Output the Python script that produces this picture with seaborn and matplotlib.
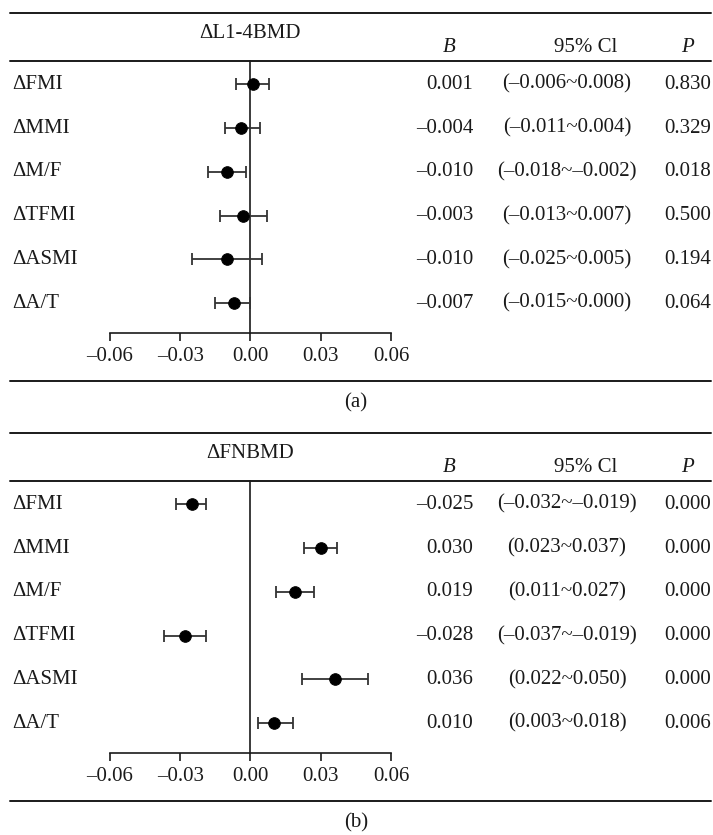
import numpy as np
import pandas as pd
import matplotlib
matplotlib.use("Agg")
import matplotlib.pyplot as plt
import matplotlib.transforms as mtransforms
import seaborn as sns

# data
rows = ["ΔFMI", "ΔMMI", "ΔM/F", "ΔTFMI", "ΔASMI", "ΔA/T"]

b_l14 = [0.001, -0.004, -0.010, -0.003, -0.010, -0.007]
lo_l14 = [-0.006, -0.011, -0.018, -0.013, -0.025, -0.015]
hi_l14 = [0.008, 0.004, -0.002, 0.007, 0.005, 0.000]
b_txt_l14 = ["0.001", "–0.004", "–0.010", "–0.003", "–0.010", "–0.007"]
ci_txt_l14 = ["(–0.006~0.008)", "(–0.011~0.004)", "(–0.018~–0.002)",
              "(–0.013~0.007)", "(–0.025~0.005)", "(–0.015~0.000)"]
p_txt_l14 = ["0.830", "0.329", "0.018", "0.500", "0.194", "0.064"]

b_fn = [-0.025, 0.030, 0.019, -0.028, 0.036, 0.010]
lo_fn = [-0.032, 0.023, 0.011, -0.037, 0.022, 0.003]
hi_fn = [-0.019, 0.037, 0.027, -0.019, 0.050, 0.018]
b_txt_fn = ["–0.025", "0.030", "0.019", "–0.028", "0.036", "0.010"]
ci_txt_fn = ["(–0.032~–0.019)", "(0.023~0.037)", "(0.011~0.027)",
             "(–0.037~–0.019)", "(0.022~0.050)", "(0.003~0.018)"]
p_txt_fn = ["0.000", "0.000", "0.000", "0.000", "0.000", "0.006"]

xticks = [-0.06, -0.03, 0.00, 0.03, 0.06]
xtick_labels = ["–0.06", "–0.03", "0.00", "0.03", "0.06"]

sns.set_style("white")
plt.rcParams["font.family"] = ["Liberation Serif", "DejaVu Serif"]

W, H = 713, 835
FS = 15
ink = "#1a1a1a"

fig = plt.figure(figsize=(W / 100, H / 100), dpi=100)
bg = fig.add_axes([0, 0, 1, 1], zorder=0)
bg.set_xlim(0, W)
bg.set_ylim(H, 0)
bg.axis("off")


def panel(off, title, tag, b, lo, hi, btxt, citxt, ptxt):
    # rules
    bg.plot([10, 711], [13 + off, 13 + off], color=ink, lw=1.4)
    bg.plot([10, 711], [61 + off, 61 + off], color=ink, lw=1.4)
    bg.plot([10, 711], [381 + off, 381 + off], color=ink, lw=1.4)
    bg.text(250, 33 + off, title, ha="center", va="center", fontsize=FS, color=ink)
    bg.text(449, 48 + off, "B", ha="center", va="center", fontsize=FS,
            style="italic", color=ink)
    bg.text(586, 48 + off, "95% Cl", ha="center", va="center", fontsize=FS, color=ink)
    bg.text(687, 48 + off, "P", ha="center", va="center", fontsize=FS,
            style="italic", color=ink)
    bg.text(356, 403 + off, tag, ha="center", va="center", fontsize=FS, color=ink)

    top, bot = 61 + off, 333 + off
    ax = fig.add_axes([110 / W, 1 - bot / H, 281 / W, (bot - top) / H], zorder=2)
    ax.patch.set_alpha(0)

    df = pd.DataFrame({"row": np.arange(len(rows)), "b": b, "lo": lo, "hi": hi})
    ax.errorbar(df["b"], df["row"], xerr=[df["b"] - df["lo"], df["hi"] - df["b"]],
                fmt="none", ecolor="#333333", elinewidth=1.3, capsize=4,
                capthick=1.3, zorder=3, clip_on=False)
    sns.scatterplot(data=df, x="b", y="row", ax=ax, color="black", s=70,
                    edgecolor="black", zorder=4, clip_on=False, legend=False)

    ax.set_xlim(-0.06, 0.06)
    ax.set_ylim(5.68, -0.53)
    ax.set_xticks(xticks)
    ax.set_xticklabels(xtick_labels, fontsize=FS, color=ink)
    ax.set_yticks([])
    ax.set_xlabel("")
    ax.set_ylabel("")
    ax.tick_params(axis="x", direction="out", length=6, width=1.2, color=ink,
                   pad=4, bottom=True)
    for s in ["top", "right"]:
        ax.spines[s].set_visible(False)
    ax.spines["left"].set_position(("data", 0))
    ax.spines["left"].set_color(ink)
    ax.spines["left"].set_linewidth(1.2)
    ax.spines["bottom"].set_color(ink)
    ax.spines["bottom"].set_linewidth(1.2)

    tr = mtransforms.blended_transform_factory(fig.transFigure, ax.transData)
    for i, name in enumerate(rows):
        ax.text(12 / W, i, name, transform=tr, ha="left", va="center",
                fontsize=FS, color=ink)
        ax.text(473 / W, i, btxt[i], transform=tr, ha="right", va="center",
                fontsize=FS, color=ink)
        ax.text(567 / W, i, citxt[i], transform=tr, ha="center", va="center",
                fontsize=FS, color=ink)
        ax.text(711 / W, i, ptxt[i], transform=tr, ha="right", va="center",
                fontsize=FS, color=ink)


panel(0, "ΔL1-4BMD", "(a)", b_l14, lo_l14, hi_l14, b_txt_l14, ci_txt_l14, p_txt_l14)
panel(420, "ΔFNBMD", "(b)", b_fn, lo_fn, hi_fn, b_txt_fn, ci_txt_fn, p_txt_fn)

fig.savefig("out.png", dpi=100)
